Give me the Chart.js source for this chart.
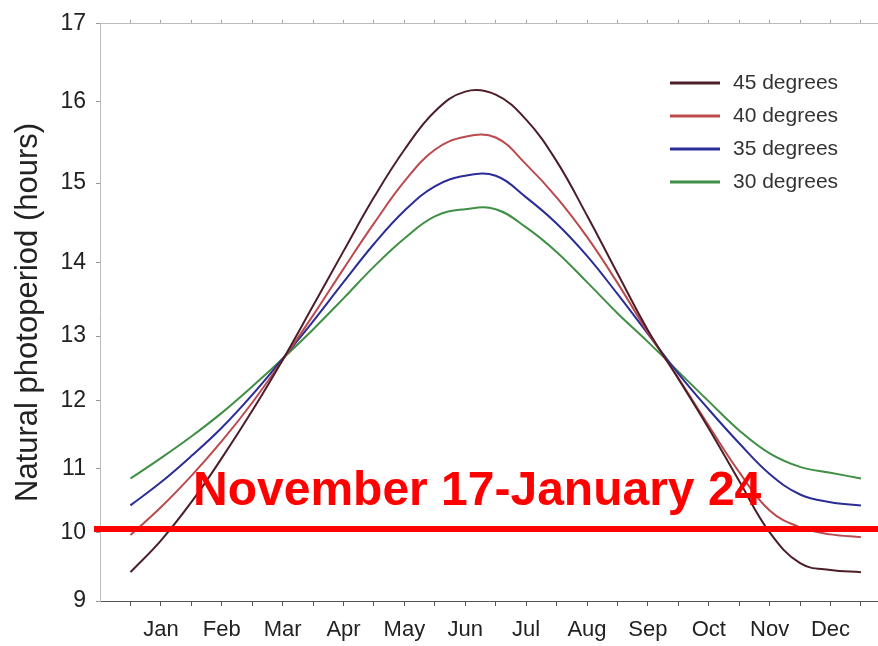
<!DOCTYPE html>
<html>
<head>
<meta charset="utf-8">
<script src="https://cdn.jsdelivr.net/npm/chart.js@4.4.1/dist/chart.umd.min.js"></script>
<style>
  body { margin: 0; background: #fff; }
  #wrap { width: 878px; height: 646px; position: relative; }
</style>
</head>
<body>
<div id="wrap"><canvas id="photo"></canvas></div>
<script>
const months = ['Jan', 'Feb', 'Mar', 'Apr', 'May', 'Jun', 'Jul', 'Aug', 'Sep', 'Oct', 'Nov', 'Dec'];
// x position in months from Jan 1 (half-month steps)
const monthPos = [0, 0.5, 1, 1.5, 2, 2.5, 3, 3.5, 4, 4.5, 5, 5.5, 6, 6.5, 7, 7.5, 8, 8.5, 9, 9.5, 10, 10.5, 11, 11.5, 12];

const lat45 = [9.42, 9.88, 10.47, 11.15, 11.85, 12.63, 13.41, 14.14, 14.82, 15.41, 15.88, 16.13, 16.09, 15.78, 15.27, 14.59, 13.85, 13.08, 12.34, 11.59, 10.80, 10.00, 9.55, 9.45, 9.42];
const lat40 = [9.96, 10.39, 10.88, 11.40, 11.97, 12.63, 13.28, 13.91, 14.49, 15.02, 15.41, 15.57, 15.56, 15.23, 14.82, 14.32, 13.72, 13.05, 12.35, 11.63, 10.94, 10.34, 10.08, 9.97, 9.93];
const lat35 = [10.42, 10.78, 11.18, 11.60, 12.09, 12.65, 13.20, 13.73, 14.23, 14.65, 14.96, 15.09, 15.09, 14.82, 14.49, 14.08, 13.57, 13.03, 12.42, 11.87, 11.37, 10.91, 10.59, 10.47, 10.42];
const lat30 = [10.84, 11.15, 11.47, 11.82, 12.22, 12.65, 13.09, 13.51, 13.94, 14.30, 14.58, 14.67, 14.67, 14.44, 14.13, 13.73, 13.31, 12.91, 12.45, 11.99, 11.56, 11.22, 11.02, 10.93, 10.84];

const seriesLabels = ['45 degrees', '40 degrees', '35 degrees', '30 degrees'];
const markLevel = 10.05;
const markText = 'November 17-January 24';

// the source figure's y axis is not evenly spaced; tick spacing as fractions of the axis
const yBreaks = [9, 10, 11, 12, 13, 14, 15, 16, 17];
const yBreakSpan = [0, 0.119, 0.230, 0.347, 0.459, 0.587, 0.724, 0.865, 1];

const FONT = '"Liberation Sans", Arial, sans-serif';

class StretchedScale extends Chart.LinearScale {
  getPixelForValue(value) {
    if (value === null || value === undefined) return NaN;
    let i = 1;
    while (i < yBreaks.length - 1 && value > yBreaks[i]) i++;
    const t = (value - yBreaks[i - 1]) / (yBreaks[i] - yBreaks[i - 1]);
    return this.getPixelForDecimal(yBreakSpan[i - 1] + t * (yBreakSpan[i] - yBreakSpan[i - 1]));
  }
  getValueForPixel(pixel) {
    const d = this.getDecimalForPixel(pixel);
    let i = 1;
    while (i < yBreakSpan.length - 1 && d > yBreakSpan[i]) i++;
    const t = (d - yBreakSpan[i - 1]) / (yBreakSpan[i] - yBreakSpan[i - 1]);
    return yBreaks[i - 1] + t * (yBreaks[i] - yBreaks[i - 1]);
  }
}
StretchedScale.id = 'stretched';
StretchedScale.defaults = Chart.LinearScale.defaults;
Chart.register(StretchedScale);

const tickMarks = monthPos.slice();

function series(vals) {
  return monthPos.map((m, i) => ({x: m, y: vals[i]}));
}

const legendBox = {
  id: 'legendBox',
  afterDatasetsDraw(chart) {
    const ctx = chart.ctx;
    ctx.save();
    ctx.font = '21px ' + FONT;
    ctx.textBaseline = 'middle';
    chart.data.datasets.forEach((ds, i) => {
      const y = 83 + i * 33;
      ctx.strokeStyle = ds.borderColor;
      ctx.lineWidth = 3;
      ctx.beginPath(); ctx.moveTo(670, y); ctx.lineTo(720, y); ctx.stroke();
      ctx.fillStyle = '#333';
      ctx.fillText(ds.label, 733, y);
    });
    ctx.restore();
  }
};

const overlay = {
  id: 'overlay',
  afterDraw(chart) {
    const {ctx, chartArea, scales} = chart;
    const y = scales.y.getPixelForValue(markLevel);
    ctx.save();
    ctx.strokeStyle = '#ff0000';
    ctx.lineWidth = 6;
    ctx.beginPath(); ctx.moveTo(chartArea.left - 6, y); ctx.lineTo(chart.width, y); ctx.stroke();
    ctx.fillStyle = '#ff0000';
    ctx.font = 'bold 48px ' + FONT;
    ctx.textBaseline = 'alphabetic';
    ctx.fillText(markText, 193, 505);
    ctx.restore();
  }
};

const xTicks = {
  type: 'linear', min: -0.5, max: 12.28,
  afterBuildTicks: s => { s.ticks = tickMarks.map(v => ({value: v})); }
};

new Chart(document.getElementById('photo'), {
  type: 'line',
  data: {
    datasets: [
      {label: seriesLabels[0], data: series(lat45), borderColor: '#4b1e28'},
      {label: seriesLabels[1], data: series(lat40), borderColor: '#bb4a4e'},
      {label: seriesLabels[2], data: series(lat35), borderColor: '#2a2d96'},
      {label: seriesLabels[3], data: series(lat30), borderColor: '#3f8f45'}
    ]
  },
  options: {
    responsive: true, maintainAspectRatio: false, animation: false,
    layout: {padding: 0},
    elements: {
      point: {radius: 0},
      line: {borderWidth: 2, tension: 0.4, fill: false}
    },
    plugins: {legend: {display: false}, tooltip: {enabled: false}},
    scales: {
      x: Object.assign({}, xTicks, {
        position: 'bottom',
        afterFit: s => { s.height = 45; },
        border: {color: '#555', width: 1},
        grid: {drawOnChartArea: false, tickLength: 5, tickColor: '#555'},
        ticks: {autoSkip: false, maxRotation: 0, padding: 11, color: '#222', font: {size: 22, family: FONT},
                callback: v => Number.isInteger(v) ? '' : months[Math.floor(v)]}
      }),
      x2: Object.assign({}, xTicks, {
        axis: 'x', position: 'top',
        afterFit: s => { s.height = 22; },
        border: {color: '#bbb', width: 1},
        grid: {drawOnChartArea: false, tickLength: 4, tickColor: '#aaa'},
        ticks: {autoSkip: false, maxRotation: 0, padding: 0, font: {size: 8}, callback: () => ''}
      }),
      y: {
        type: 'stretched', min: 9, max: 17,
        afterFit: s => { s.width = 100; },
        border: {color: '#bbb', width: 1},
        grid: {drawOnChartArea: false, tickLength: 4, tickColor: '#999'},
        ticks: {stepSize: 1, padding: 10, color: '#222', font: {size: 23, family: FONT}},
        title: {display: true, text: 'Natural photoperiod (hours)', color: '#222',
                font: {size: 31, family: FONT}, padding: {top: 10, bottom: 0}}
      }
    }
  },
  plugins: [legendBox, overlay]
});
</script>
</body>
</html>
